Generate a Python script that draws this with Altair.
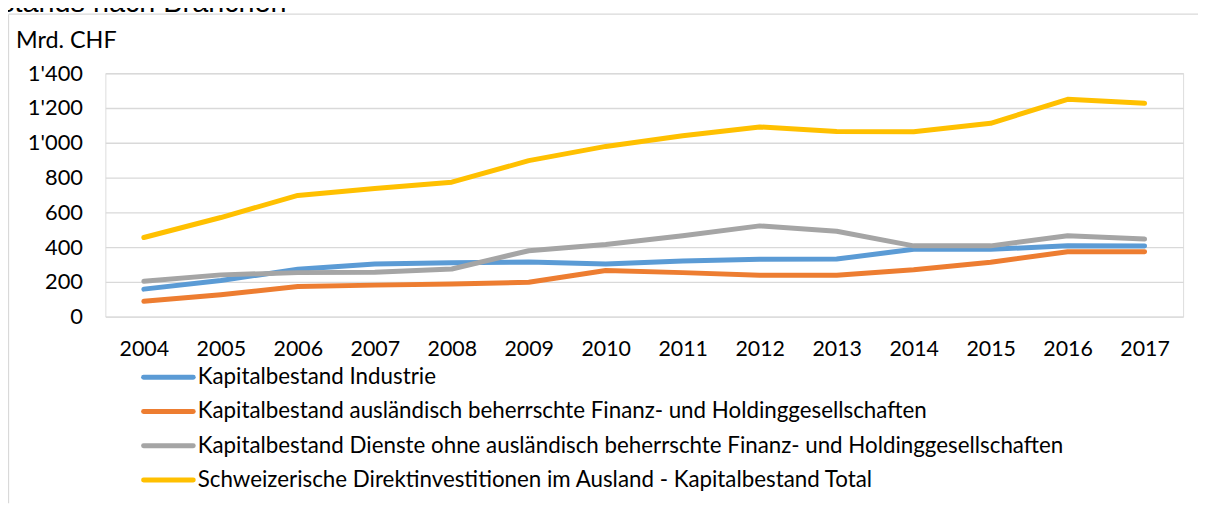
import altair as alt
import pandas as pd

years = [str(y) for y in range(2004, 2018)]

series_names = [
    "Kapitalbestand Industrie",
    "Kapitalbestand ausländisch beherrschte Finanz- und Holdinggesellschaften",
    "Kapitalbestand Dienste ohne ausländisch beherrschte Finanz- und Holdinggesellschaften",
    "Schweizerische Direktinvestitionen im Ausland - Kapitalbestand Total",
]
industrie = [158, 208, 272, 302, 310, 314, 303, 320, 330, 331, 387, 387, 407, 406]
finanz = [88, 126, 173, 181, 187, 198, 265, 253, 238, 238, 269, 313, 373, 373]
dienste = [203, 240, 253, 255, 274, 379, 415, 465, 522, 491, 407, 407, 465, 446]
total = [455, 570, 697, 737, 773, 897, 979, 1040, 1091, 1065, 1063, 1112, 1250, 1227]
colors = ["#5B9BD5", "#ED7D31", "#A5A5A5", "#FFC000"]

rows = []
for name, vals in zip(series_names, [industrie, finanz, dienste, total]):
    for yr, v in zip(years, vals):
        rows.append({"Jahr": yr, "Serie": name, "Wert": v})
df = pd.DataFrame(rows)
leg_df = pd.DataFrame({"Serie": series_names, "pos": list(range(len(series_names)))})

FONT = "Lato"
color_scale = alt.Scale(domain=series_names, range=colors)

lines = alt.Chart(df).mark_line(strokeWidth=5, strokeCap="round", strokeJoin="round").encode(
    x=alt.X("Jahr:O", scale=alt.Scale(type="point", padding=0.5),
            axis=alt.Axis(title=None, labelAngle=0, domain=False, ticks=False, grid=False,
                          labelPadding=22, labelFontSize=21.5, labelFont=FONT, labelColor="#000000")),
    y=alt.Y("Wert:Q", scale=alt.Scale(domain=[0, 1400], nice=False),
            axis=alt.Axis(title=None, values=[0, 200, 400, 600, 800, 1000, 1200, 1400],
                          labelExpr="replace(format(datum.value, ','), ',', \"'\")",
                          domain=False, ticks=False, grid=True, gridColor="#D9D9D9", gridWidth=1.3,
                          labelPadding=23, labelFontSize=22, labelFont=FONT, labelColor="#000000")),
    color=alt.Color("Serie:N", sort=series_names, scale=color_scale, legend=None),
    order=alt.Order("Jahr:O"),
)

# legend built from the series list
leg_y = alt.Y("pos:Q", scale=alt.Scale(domain=[0, 3], range=[306, 409.5]), axis=None)
leg_sym = alt.Chart(leg_df).mark_rule(strokeWidth=5, strokeCap="round").encode(
    x=alt.value(38.5), x2=alt.value(88.5), y=leg_y,
    color=alt.Color("Serie:N", scale=color_scale, legend=None),
)
leg_lab = alt.Chart(leg_df).mark_text(
    font=FONT, fontSize=22.5, align="left", baseline="middle", color="#000000"
).encode(x=alt.value(93), y=leg_y, text="Serie:N")
legend = alt.layer(leg_sym, leg_lab)

unit = alt.Chart(pd.DataFrame({"t": ["Mrd. CHF"]})).mark_text(
    font=FONT, fontSize=23.5, align="left", baseline="alphabetic", color="#000000"
).encode(x=alt.value(-90), y=alt.value(-25), text="t:N")

title_txt = alt.Chart(pd.DataFrame({"t": ["stands nach Branchen"]})).mark_text(
    font="Liberation Sans", fontSize=29, align="left", baseline="alphabetic", color="#000000"
).encode(x=alt.value(-106), y=alt.value(-62), text="t:N")

border_top = alt.Chart(pd.DataFrame({"a": [0]})).mark_rule(color="#D9D9D9", strokeWidth=1.3).encode(
    x=alt.value(-97.5), x2=alt.value(1100), y=alt.value(-59.5))
border_left = alt.Chart(pd.DataFrame({"a": [0]})).mark_rule(color="#D9D9D9", strokeWidth=1.3).encode(
    x=alt.value(-97.5), y=alt.value(-59.5), y2=alt.value(433))

chart = alt.layer(border_top, border_left, title_txt, unit, lines, legend).resolve_scale(
    y="independent"
).properties(
    width=1085, height=245,
    padding={"left": 98, "top": 64, "right": 15, "bottom": 189},
    autosize=alt.AutoSizeParams(type="none"),
).configure_view(stroke=None).configure(background="#FFFFFF")

chart.save("out.html", embed_options={"renderer": "svg", "actions": False})
